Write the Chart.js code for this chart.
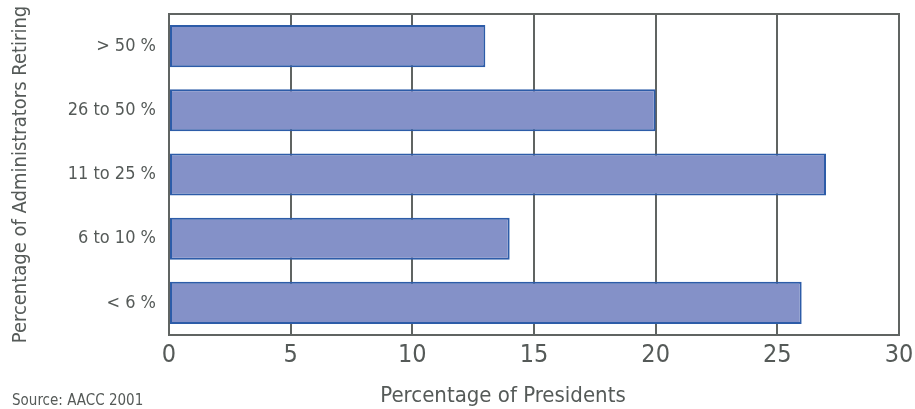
<!DOCTYPE html>
<html>
<head>
<meta charset="utf-8">
<script src="https://cdn.jsdelivr.net/npm/chart.js@4"></script>
<style>
	html, body { margin: 0; padding: 0; background: #fff; }
	#wrap { width: 915px; height: 409px; position: relative; }
</style>
</head>
<body>
<div id="wrap"><canvas id="chart" width="915" height="409"></canvas></div>
<script>
const categories = ['> 50 %', '26 to 50 %', '11 to 25 %', '6 to 10 %', '< 6 %'];
const presidents = [13, 20, 27, 14, 26];
const xTicks = [0, 5, 10, 15, 20, 25, 30];

const FONT = '"Liberation Sans Narrow", "DejaVu Sans Condensed", sans-serif';
const TEXT = '#555a58';
const GRID = '#606462';

// box round the plot, x title and the source line under it
const frame = {
	id: 'frame',
	afterDatasetsDraw(chart) {
		const { ctx, chartArea: a } = chart;
		ctx.save();
		ctx.strokeStyle = GRID;
		ctx.lineWidth = 2;
		ctx.strokeRect(a.left, a.top, a.right - a.left, a.bottom - a.top);
		ctx.restore();
	},
	afterDraw(chart) {
		const { ctx } = chart;
		ctx.save();
		ctx.fillStyle = TEXT;
		ctx.textBaseline = 'middle';
		ctx.textAlign = 'center';
		ctx.font = '22px ' + FONT;
		ctx.fillText('Percentage of Presidents', 503, 396);
		ctx.textAlign = 'left';
		ctx.font = '15px ' + FONT;
		ctx.fillText('Source: AACC 2001', 12, 401);
		ctx.restore();
	}
};

new Chart(document.getElementById('chart'), {
	type: 'bar',
	data: {
		labels: categories,
		datasets: [{
			data: presidents,
			backgroundColor: '#8491c8',
			borderColor: '#2d5ca8',
			borderWidth: 2,
			borderSkipped: false,
			categoryPercentage: 1,
			barPercentage: 0.655,
		}]
	},
	plugins: [frame],
	options: {
		indexAxis: 'y',
		responsive: false,
		animation: false,
		layout: { padding: { top: 14, right: 16, left: 0, bottom: 0 } },
		plugins: { legend: { display: false }, tooltip: { enabled: false } },
		scales: {
			x: {
				min: 0,
				max: 30,
				afterBuildTicks(scale) { scale.ticks = xTicks.map(v => ({ value: v })); },
				afterFit(scale) {
					scale.height = 74;
					scale.paddingLeft = 0;
					scale.paddingRight = 0;
				},
				grid: { color: GRID, lineWidth: 2, drawTicks: false },
				border: { display: false },
				ticks: { color: TEXT, font: { family: FONT, size: 25 }, padding: 5 }
			},
			y: {
				afterFit(scale) {
					scale.width = 169;
					scale.paddingTop = 0;
					scale.paddingBottom = 0;
				},
				grid: { display: false },
				border: { display: false },
				ticks: { color: TEXT, font: { family: FONT, size: 18 }, padding: 5 },
				title: {
					display: true,
					text: 'Percentage of Administrators Retiring',
					color: TEXT,
					font: { family: FONT, size: 20 },
					padding: { top: 9, bottom: 0 }
				}
			}
		}
	}
});
</script>
</body>
</html>
